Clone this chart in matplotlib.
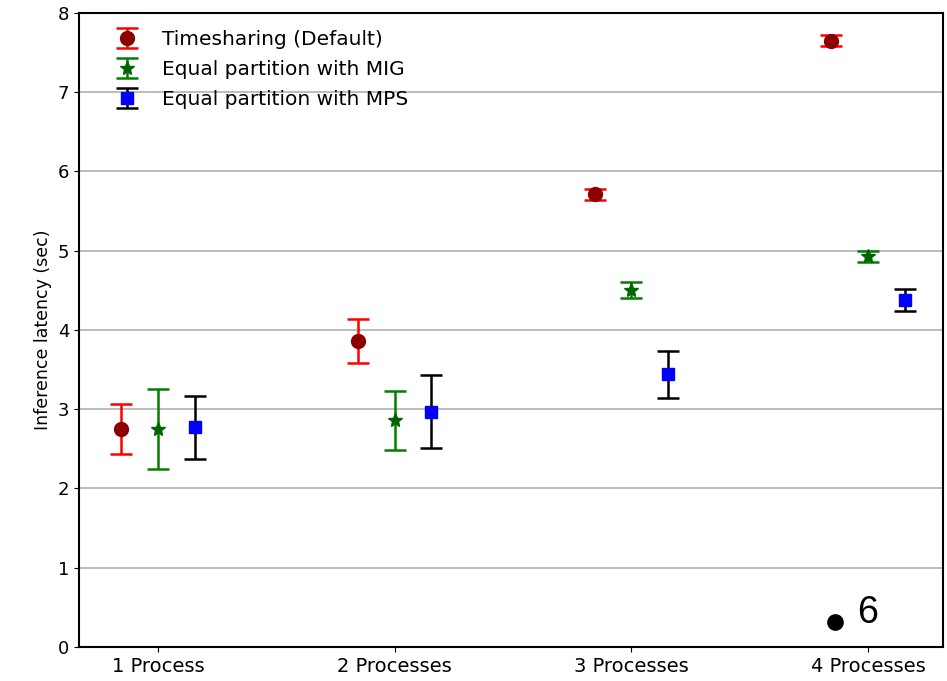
import numpy as np
import matplotlib
matplotlib.use("Agg")
import matplotlib.pyplot as plt

categories = ["1 Process", "2 Processes", "3 Processes", "4 Processes"]
series_labels = [
    "Timesharing (Default)",
    "Equal partition with MIG",
    "Equal partition with MPS",
]

timesharing_mean = [2.75, 3.86, 5.71, 7.65]
timesharing_err = [0.31, 0.28, 0.07, 0.07]
mig_mean = [2.75, 2.86, 4.50, 4.93]
mig_err = [0.50, 0.37, 0.10, 0.07]
mps_mean = [2.77, 2.97, 3.44, 4.38]
mps_err = [0.40, 0.46, 0.30, 0.14]

fig = plt.figure(figsize=(9.47, 6.81), dpi=100)
ax = fig.add_axes((0.0834, 0.0499, 0.9124, 0.9311))

x = np.arange(1, len(categories) + 1)
offset = 0.155

styles = [
    (timesharing_mean, timesharing_err, "o", "darkred", "red", 10),
    (mig_mean, mig_err, "*", "darkgreen", "green", 10),
    (mps_mean, mps_err, "s", "blue", "black", 9),
]
for i, (mean, err, marker, face, bar_color, ms) in enumerate(styles):
    ax.errorbar(
        x + (i - 1) * offset,
        mean,
        yerr=err,
        fmt=marker,
        color=face,
        ecolor=bar_color,
        markersize=ms,
        capsize=8,
        elinewidth=1.8,
        capthick=1.8,
        label=series_labels[i],
        zorder=3,
    )

ax.set_xlim(0.666, 4.317)
ax.set_ylim(0, 8)
ax.set_xticks(x)
ax.set_xticklabels(categories, fontsize=14)
ax.tick_params(axis="y", labelsize=13)
ax.set_ylabel("Inference latency (sec)", fontsize=12.5)
ax.yaxis.grid(True, color="#b0b0b0", linewidth=1.2)
ax.set_axisbelow(True)

for spine in ax.spines.values():
    spine.set_linewidth(1.5)

ax.legend(loc="upper left", bbox_to_anchor=(0.016, 0.995), frameon=False,
          fontsize=14.5, handletextpad=0.75, borderaxespad=0.3,
          labelspacing=0.55)

# page number style marker in the corner
ax.plot([3.86], [0.32], "o", color="black", markersize=11)
ax.text(4.0, 0.43, "6", fontsize=27, family="Liberation Sans",
        ha="center", va="center")

fig.savefig("out.png", dpi=100)
